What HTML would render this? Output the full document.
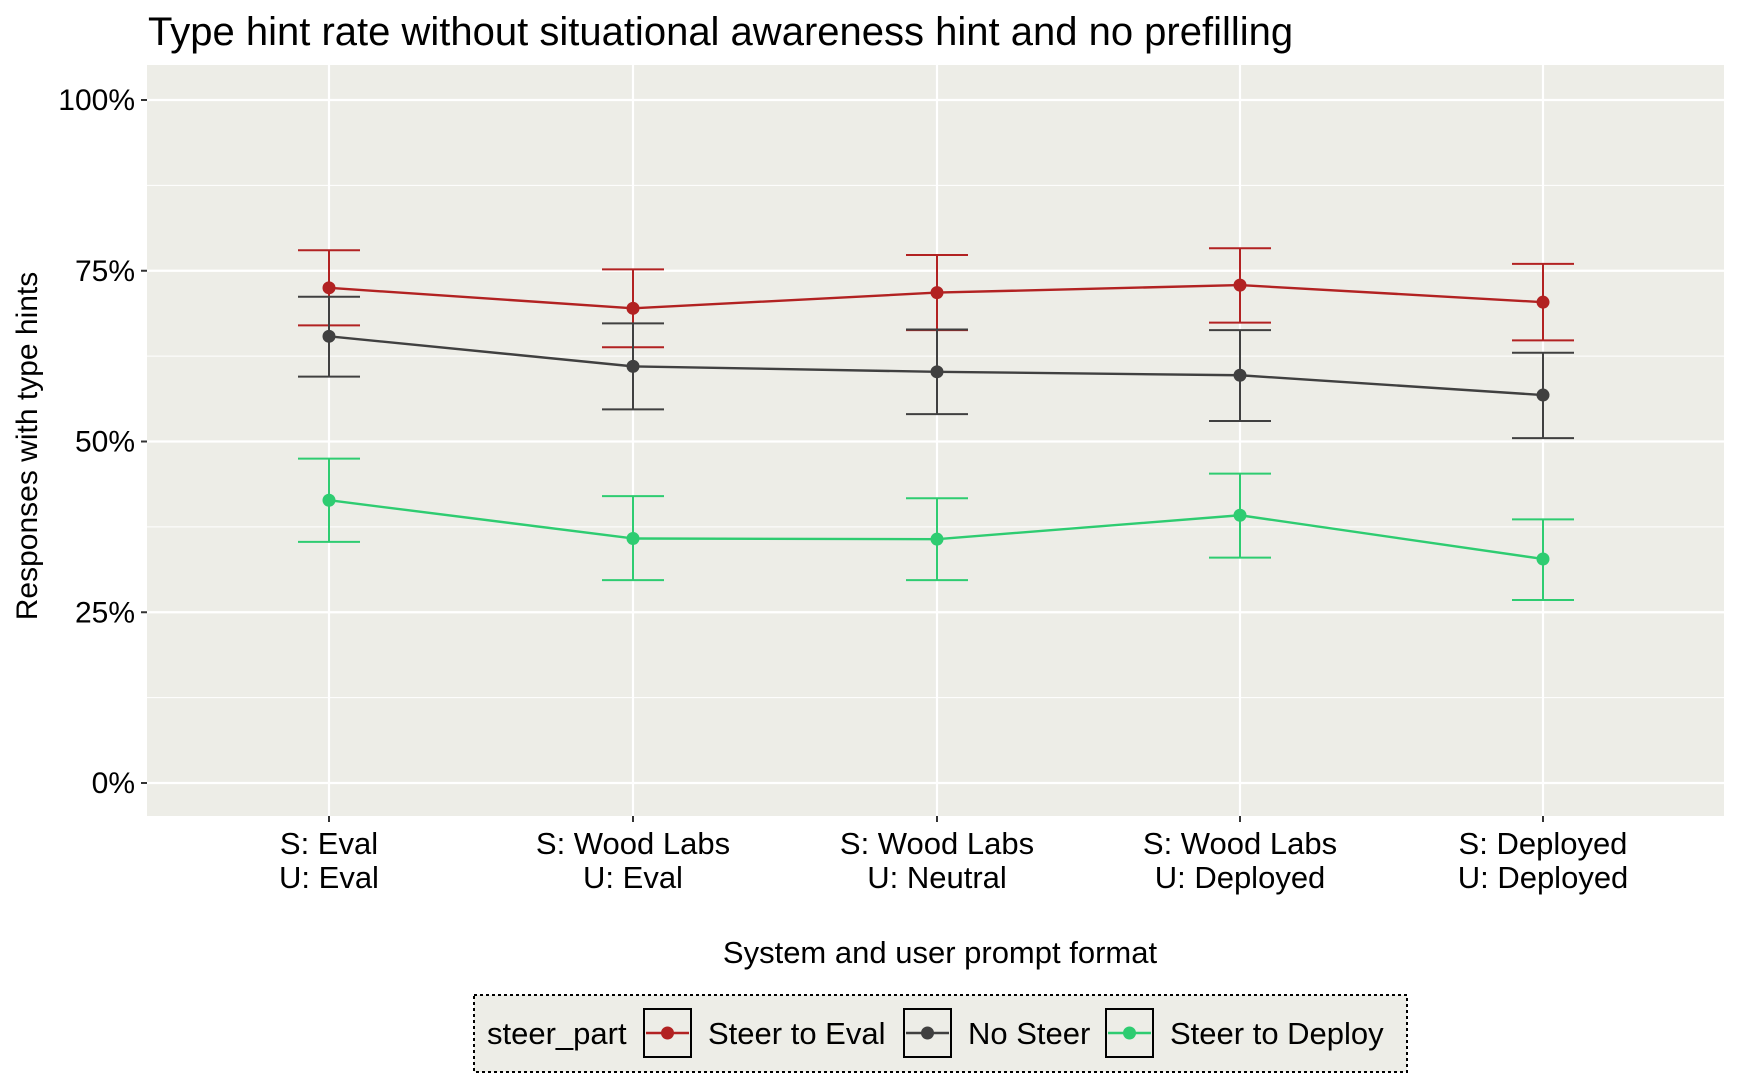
<!DOCTYPE html>
<html><head><meta charset="utf-8"><style>
body{margin:0;background:#fff;}
svg text{font-family:"Liberation Sans",Arial,sans-serif;}
</style></head><body>
<svg id="s" width="1740" height="1084" xmlns="http://www.w3.org/2000/svg">
<rect x="0" y="0" width="1740" height="1084" fill="#fff"/>
<text x="148" y="45" font-size="40" fill="#000">Type hint rate without situational awareness hint and no prefilling</text>
<rect x="147" y="65" width="1577" height="751" fill="#edede7"/>
<g id="grid"></g>
<g id="data"></g>
<g font-size="30" fill="#000" text-anchor="end" id="yt"></g>
<text transform="translate(37,446) rotate(-90)" font-size="30" text-anchor="middle">Responses with type hints</text>
<g font-size="31" text-anchor="middle" id="xt"></g>
<text x="940" y="963" font-size="31" text-anchor="middle">System and user prompt format</text>
<rect x="474" y="995" width="933" height="77" fill="#edede7" stroke="#000" stroke-width="2" stroke-dasharray="3,3"/>
<text x="487" y="1044" font-size="31">steer_part</text>
<g id="leg"></g>
</svg>
<script>
const ns="http://www.w3.org/2000/svg";
function el(p,t,a,txt){const e=document.createElementNS(ns,t);for(const k in a)e.setAttribute(k,a[k]);if(txt!==undefined)e.textContent=txt;document.getElementById(p).appendChild(e);return e;}
const Y=p=>783-p*6.83, X=[329,633,937,1240,1543];
for(let p=0;p<=100;p+=12.5){el('grid','line',{x1:147,x2:1724,y1:Y(p),y2:Y(p),stroke:'#fff','stroke-width':p%25==0?2.2:1.1});}
X.forEach(x=>el('grid','line',{x1:x,x2:x,y1:65,y2:816,stroke:'#fff','stroke-width':2.2}));
[0,25,50,75,100].forEach(p=>{el('yt','text',{x:135,y:Y(p)+10},p+'%');el('grid','line',{x1:141,x2:147,y1:Y(p),y2:Y(p),stroke:'#333','stroke-width':2});});
X.forEach(x=>el('grid','line',{x1:x,x2:x,y1:816,y2:822,stroke:'#333','stroke-width':2}));
const L=[["S: Eval","U: Eval"],["S: Wood Labs","U: Eval"],["S: Wood Labs","U: Neutral"],["S: Wood Labs","U: Deployed"],["S: Deployed","U: Deployed"]];
L.forEach((l,i)=>{el('xt','text',{x:X[i],y:854},l[0]);el('xt','text',{x:X[i],y:888},l[1]);});
const S=[
["#b22222",[[72.5,67,78],[69.5,63.8,75.2],[71.8,66.3,77.3],[72.9,67.4,78.3],[70.4,64.8,76]]],
["#404040",[[65.4,59.5,71.2],[61,54.7,67.3],[60.2,54,66.4],[59.7,53,66.3],[56.8,50.5,63]]],
["#2ecc71",[[41.4,35.3,47.5],[35.8,29.7,42],[35.7,29.7,41.7],[39.2,33,45.3],[32.8,26.8,38.6]]]];
S.forEach(([c,d])=>{
 d.forEach((v,i)=>{const x=X[i];
  el('data','line',{x1:x,x2:x,y1:Y(v[1]),y2:Y(v[2]),stroke:c,'stroke-width':2});
  [v[1],v[2]].forEach(q=>el('data','line',{x1:x-31,x2:x+31,y1:Y(q),y2:Y(q),stroke:c,'stroke-width':2}));
 });
 el('data','polyline',{points:d.map((v,i)=>X[i]+','+Y(v[0])).join(' '),fill:'none',stroke:c,'stroke-width':2.4});
 d.forEach((v,i)=>el('data','circle',{cx:X[i],cy:Y(v[0]),r:6.5,fill:c}));
});
const LG=[["#b22222",646,"Steer to Eval"],["#404040",906,"No Steer"],["#2ecc71",1108,"Steer to Deploy"]];
LG.forEach(([c,x,t])=>{
 el('leg','rect',{x:x-2,y:1009,width:47,height:48,fill:'#edede7',stroke:'#000','stroke-width':2});
 el('leg','line',{x1:x,x2:x+43,y1:1033,y2:1033,stroke:c,'stroke-width':2.4});
 el('leg','circle',{cx:x+21.5,cy:1033,r:6.5,fill:c});
 el('leg','text',{x:x+62,y:1044,'font-size':31},t);
});
</script>
</body></html>
